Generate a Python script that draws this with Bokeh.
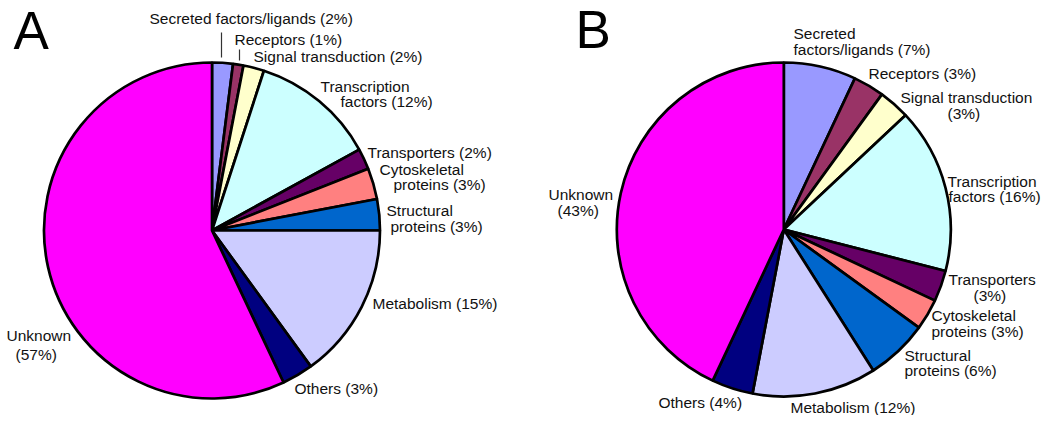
import math
from bokeh.plotting import figure
from bokeh.models import Range1d
from bokeh.core.properties import value
from bokeh.embed import file_html
from bokeh.resources import INLINE

# ---- data ----
categories = ["Secreted factors/ligands", "Receptors", "Signal transduction",
              "Transcription factors", "Transporters", "Cytoskeletal proteins",
              "Structural proteins", "Metabolism", "Others", "Unknown"]
values_A = [2, 1, 2, 12, 2, 3, 3, 15, 3, 57]
values_B = [7, 3, 3, 16, 3, 3, 6, 12, 4, 43]
colors = ["#9999FF", "#993366", "#FFFFCC", "#CCFFFF", "#660066",
          "#FF8080", "#0066CC", "#CCCCFF", "#000080", "#FF00FF"]

# label text with line breaks (text only)
names_A = ["Secreted factors/ligands", "Receptors", "Signal transduction",
           "Transcription\nfactors", "Transporters", "Cytoskeletal\nproteins",
           "Structural\nproteins", "Metabolism", "Others", "Unknown\n"]
names_B = ["Secreted\nfactors/ligands", "Receptors", "Signal transduction\n",
           "Transcription\nfactors", "Transporters\n", "Cytoskeletal\nproteins",
           "Structural\nproteins", "Metabolism", "Others", "Unknown\n"]

# ---- layout (page pixel positions of each label line: left x, centre y) ----
pos_A = [[(149, 18)], [(234, 39)], [(253, 56)], [(320, 86), (340, 101)],
         [(367, 152)], [(379, 169), (393, 184)], [(386, 210), (390, 226)],
         [(372, 303)], [(294, 388)], [(6, 335), (15, 354)]]
pos_B = [[(793, 33), (793, 49)], [(868, 73)], [(900, 97), (947, 113)],
         [(947, 181), (948, 196)], [(948, 279), (973, 295)],
         [(931, 315), (931, 331)], [(904, 355), (904, 370)],
         [(790, 407)], [(658, 402)], [(548, 194), (557, 210)]]

W, H = 1042, 415
FONT = value("Liberation Sans")


def Y(yi):
    return H - yi


p = figure(width=W, height=H, x_range=Range1d(0, W), y_range=Range1d(0, H),
           output_backend="svg", toolbar_location=None, min_border=0)
p.axis.visible = False
p.grid.visible = False
p.outline_line_color = None
p.background_fill_color = "white"
p.border_fill_color = "white"


def draw_pie(vals, cx, cy, r, names, positions, letter, lpos):
    total = float(sum(vals))
    starts, ends = [], []
    c = 0.0
    for v in vals:
        starts.append(math.pi / 2 - 2 * math.pi * c / total)
        c += v
        ends.append(math.pi / 2 - 2 * math.pi * c / total)
    p.wedge(x=cx, y=Y(cy), radius=r, start_angle=starts, end_angle=ends,
            direction="clock", fill_color=colors, line_color="black", line_width=2.7)
    for name, v, ps in zip(names, vals, positions):
        sep = "" if name.endswith("\n") else " "
        lines = (name + sep + f"({v}%)").split("\n")
        for ln, (xx, yy) in zip(lines, ps):
            p.text(x=[xx], y=[Y(yy)], text=[ln], text_font=FONT,
                   text_font_size="15.5px", text_align="left",
                   text_baseline="middle", text_color="#111111")
    p.text(x=[lpos[0]], y=[Y(lpos[1])], text=[letter], text_font=FONT,
           text_font_size="53px", text_align="left", text_baseline="middle",
           text_color="black")


draw_pie(values_A, 211.5, 230, 168, names_A, pos_A, "A", (13, 30))
draw_pie(values_B, 783.3, 229, 167, names_B, pos_B, "B", (575, 29))

# leader lines (panel A)
p.segment(x0=[221, 239], y0=[Y(32), Y(49)], x1=[221, 239], y1=[Y(57), Y(60)],
          line_color="#333333", line_width=1.2)

open("out.html", "w").write(file_html(p, INLINE))
